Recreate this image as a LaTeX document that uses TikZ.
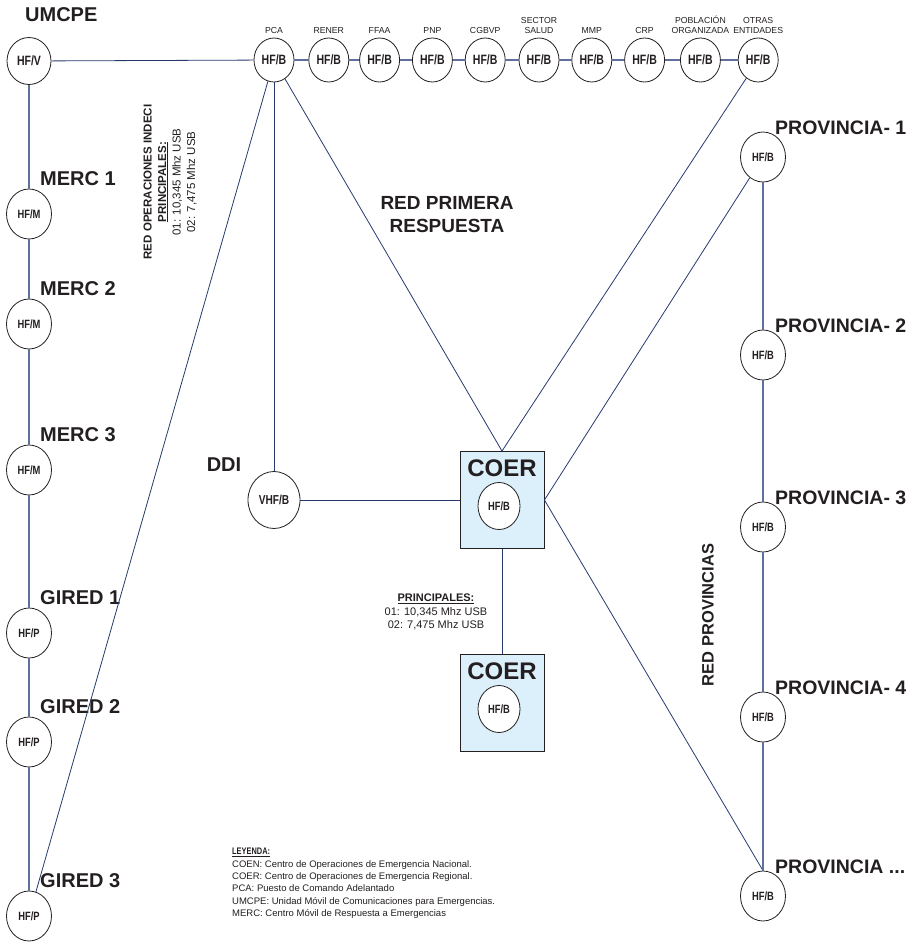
\documentclass[tikz,border=0pt]{standalone}
\usepackage{fontspec}
\setmainfont{Liberation Sans}
\newfontfamily\narrowfont[FakeStretch=0.78]{Liberation Sans}
\usetikzlibrary{
  shapes.geometric, % ellipse
  positioning,      % right=of ...
}
\definecolor{netblue}{RGB}{38,58,110}
\definecolor{chainblue}{RGB}{95,112,158}
\definecolor{coerblue}{RGB}{220,240,251}
\definecolor{ink}{RGB}{35,31,32}
\def\mylblshift{11pt}
\tikzset{
  radio/.style={
    draw=ink,
    line width=0.8pt,
    ellipse,
    inner sep=0pt,
    fill=white,
    text=ink,
    minimum width=45pt,
    minimum height=50pt,
    font=\narrowfont\bfseries\fontsize{12}{14}\selectfont
  },
  radio top/.style={
    radio,
    minimum width=40pt,
    minimum height=44pt,
    font=\narrowfont\bfseries\fontsize{13.5}{15}\selectfont
  },
  radio coer/.style={
    radio,
    minimum width=42pt,
    minimum height=47pt
  },
  coerbox/.style={
    draw=ink,
    line width=0.9pt,
    fill=coerblue,
    minimum width=84pt,
    minimum height=97pt
  },
  toplbl/.style={
    text=ink,
    inner sep=1pt,
    align=center,
    font=\fontsize{8.7}{9.7}\selectfont
  },
  biglbl/.style={
    text=ink,
    inner sep=0pt,
    font=\bfseries\fontsize{20}{23}\selectfont
  },
  provlbl/.style={
    biglbl,
    font=\bfseries\fontsize{19.5}{23}\selectfont
  },
  notelbl/.style={
    text=ink,
    inner sep=0pt,
    align=center,
    font=\fontsize{10.5}{13.5}\selectfont
  },
  wire/.style={
    draw=netblue,
    line width=0.8pt
  },
  chain/.style={
    draw=chainblue,
    line width=1.1pt
  }
}
\begin{document}
\begin{tikzpicture}[x=1pt,y=-1pt]
\useasboundingbox (0,0) rectangle (922,942);

% left column
\node[radio, minimum width=44pt, minimum height=47pt,
      font=\narrowfont\bfseries\fontsize{13.5}{15}\selectfont] (umcpe) at (29,61) {HF/V};
\node[radio] (merc1)  at (29,214) {HF/M};
\node[radio] (merc2)  at (29,324) {HF/M};
\node[radio] (merc3)  at (29,470) {HF/M};
\node[radio] (gired1) at (29,633) {HF/P};
\node[radio] (gired2) at (29,742) {HF/P};
\node[radio] (gired3) at (29,916) {HF/P};

\node[biglbl, anchor=west] at ([xshift=-4pt,yshift=22pt]umcpe.north) {UMCPE};
\foreach \n/\t in {merc1/MERC 1,merc2/MERC 2,merc3/MERC 3,
                   gired1/GIRED 1,gired2/GIRED 2,gired3/GIRED 3}
  \node[biglbl, anchor=west] at ([xshift=\mylblshift,yshift=10pt]\n.north) {\t};

% first response row
\node[radio top] (pca)   at (274,60)       {HF/B};
\node[radio top] (rener) [right=14pt of pca]   {HF/B};
\node[radio top] (ffaa)  [right=10pt of rener] {HF/B};
\node[radio top] (pnp)   [right=12pt of ffaa]  {HF/B};
\node[radio top] (cgbvp) [right=12pt of pnp]   {HF/B};
\node[radio top] (salud) [right=13pt of cgbvp] {HF/B};
\node[radio top] (mmp)   [right=12pt of salud] {HF/B};
\node[radio top] (crp)   [right=12pt of mmp]   {HF/B};
\node[radio top] (pobl)  [right=15pt of crp]   {HF/B};
\node[radio top] (otras) [right=17pt of pobl]  {HF/B};

\foreach \n/\t in {pca/PCA,rener/RENER,ffaa/FFAA,pnp/PNP,cgbvp/CGBVP,
                   salud/{SECTOR\\SALUD},mmp/MMP,crp/CRP,
                   pobl/{POBLACIÓN\\ORGANIZADA},otras/{OTRAS\\ENTIDADES}}
  \node[toplbl, above=3pt of \n] {\t};

% provinces
\node[radio] (prov1) at (763,157) {HF/B};
\node[radio] (prov2) at (763,355) {HF/B};
\node[radio] (prov3) at (763,527) {HF/B};
\node[radio] (prov4) at (763,717) {HF/B};
\node[radio] (prov5) at (763,896) {HF/B};
\foreach \n/\t in {prov1/1,prov2/2,prov3/3,prov4/4}
  \node[provlbl, anchor=west] at ([xshift=12pt,yshift=4pt]\n.north) {PROVINCIA- \t};
\node[provlbl, anchor=west] at ([xshift=12pt,yshift=4pt]prov5.north) {PROVINCIA ...};

% COER and DDI
\node[coerbox] (coer1) at (502,500) {};
\node[biglbl, font=\bfseries\fontsize{24}{28}\selectfont] at ([yshift=-17pt]coer1.north) {COER};
\node[radio coer] (coer1r) at ([xshift=-3pt,yshift=-6pt]coer1.center) {HF/B};

\node[coerbox] (coer2) at (502,703) {};
\node[biglbl, font=\bfseries\fontsize{24}{28}\selectfont] at ([yshift=-17pt]coer2.north) {COER};
\node[radio coer] (coer2r) at ([xshift=-3pt,yshift=-6pt]coer2.center) {HF/B};

\node[radio, minimum width=52pt, minimum height=57pt,
      font=\narrowfont\bfseries\fontsize{13}{15}\selectfont] (ddi) at (274,500) {VHF/B};
\node[biglbl] at (224,465) {DDI};

% connectors
\path[wire] (umcpe) edge (pca)
            (pca) edge (gired3)
            (pca) edge (ddi)
            (pca) edge (coer1.north)
            (otras) edge (coer1.north)
            (ddi) edge (coer1.west)
            (coer1) edge (coer2)
            (coer1.east) edge (prov1)
            (coer1.east) edge (prov5.north);
\path[chain] (umcpe) edge (merc1)
             (merc1) edge (merc2)
             (merc2) edge (merc3)
             (merc3) edge (gired1)
             (gired1) edge (gired2)
             (gired2) edge (gired3)
             (prov1) edge (prov2)
             (prov2) edge (prov3)
             (prov3) edge (prov4)
             (prov4) edge (prov5);
\path[chain] (pca) edge (rener)
             (rener) edge (ffaa)
             (ffaa) edge (pnp)
             (pnp) edge (cgbvp)
             (cgbvp) edge (salud)
             (salud) edge (mmp)
             (mmp) edge (crp)
             (crp) edge (pobl)
             (pobl) edge (otras);

% texts
\node[biglbl, align=center, font=\bfseries\fontsize{19}{23}\selectfont] at (447,215)
  {RED PRIMERA\\RESPUESTA};
\node[biglbl, rotate=90, font=\bfseries\fontsize{16.5}{20}\selectfont] at (708,615)
  {RED PROVINCIAS};
\node[notelbl, rotate=90, font=\fontsize{11.5}{14.5}\selectfont] at (170,182)
  {\textbf{RED OPERACIONES INDECI}\\\underline{\textbf{PRINCIPALES:}}\\
   01: 10,345 Mhz USB\\02: 7,475 Mhz USB};
\node[notelbl, font=\fontsize{11}{13.5}\selectfont] at (436,612)
  {\underline{\textbf{PRINCIPALES:}}\\01: 10,345 Mhz USB\\02: 7,475 Mhz USB};
\node[notelbl, align=left, anchor=north west, font=\fontsize{9.5}{12.4}\selectfont] (leyenda) at (232,848)
  {{\narrowfont\bfseries\underline{LEYENDA:}}\\
   COEN: Centro de Operaciones de Emergencia Nacional.\\
   COER: Centro de Operaciones de Emergencia Regional.\\
   PCA: Puesto de Comando Adelantado\\
   UMCPE: Unidad Móvil de Comunicaciones para Emergencias.\\
   MERC: Centro Móvil de Respuesta a Emergencias};
\end{tikzpicture}
\end{document}
